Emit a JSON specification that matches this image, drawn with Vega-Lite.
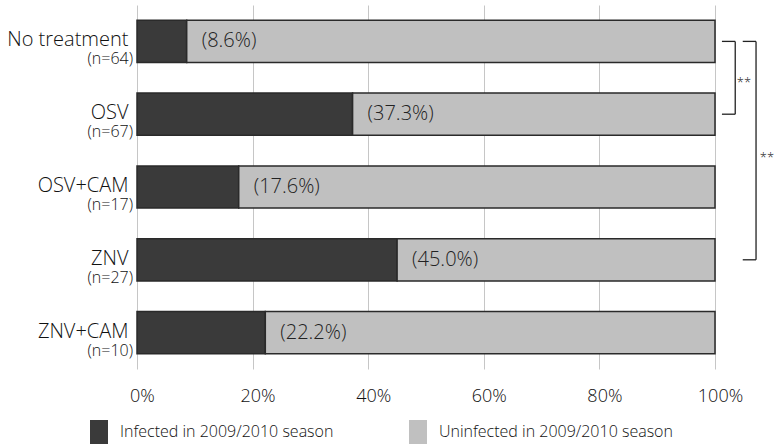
{
  "$schema": "https://vega.github.io/schema/vega-lite/v6.json",
  "width": 578,
  "height": 364,
  "autosize": "none",
  "padding": {"left": 137, "top": 5, "right": 64, "bottom": 79},
  "background": "white",
  "config": {
    "font": "Open Sans",
    "view": {"stroke": null},
    "text": {"fontWeight": 300},
    "axis": {"labelFontWeight": 300},
    "legend": {"labelFontWeight": 300}
  },
  "datasets": {
    "bars": [
      {"treatment": "No treatment", "status": "Infected in 2009/2010 season", "pct": 0.086},
      {"treatment": "No treatment", "status": "Uninfected in 2009/2010 season", "pct": 0.914},
      {"treatment": "OSV", "status": "Infected in 2009/2010 season", "pct": 0.373},
      {"treatment": "OSV", "status": "Uninfected in 2009/2010 season", "pct": 0.627},
      {"treatment": "OSV+CAM", "status": "Infected in 2009/2010 season", "pct": 0.176},
      {"treatment": "OSV+CAM", "status": "Uninfected in 2009/2010 season", "pct": 0.824},
      {"treatment": "ZNV", "status": "Infected in 2009/2010 season", "pct": 0.45},
      {"treatment": "ZNV", "status": "Uninfected in 2009/2010 season", "pct": 0.55},
      {"treatment": "ZNV+CAM", "status": "Infected in 2009/2010 season", "pct": 0.222},
      {"treatment": "ZNV+CAM", "status": "Uninfected in 2009/2010 season", "pct": 0.778}
    ],
    "groups": [
      {"treatment": "No treatment", "n": "(n=64)", "infected": 0.086, "label": "(8.6%)"},
      {"treatment": "OSV", "n": "(n=67)", "infected": 0.373, "label": "(37.3%)"},
      {"treatment": "OSV+CAM", "n": "(n=17)", "infected": 0.176, "label": "(17.6%)"},
      {"treatment": "ZNV", "n": "(n=27)", "infected": 0.45, "label": "(45.0%)"},
      {"treatment": "ZNV+CAM", "n": "(n=10)", "infected": 0.222, "label": "(22.2%)"}
    ],
    "brackets": [
      {"x1": 1.012, "x2": 1.035, "y1": "No treatment", "y2": "No treatment"},
      {"x1": 1.035, "x2": 1.035, "y1": "No treatment", "y2": "OSV"},
      {"x1": 1.012, "x2": 1.035, "y1": "OSV", "y2": "OSV"},
      {"x1": 1.048, "x2": 1.071, "y1": "No treatment", "y2": "No treatment"},
      {"x1": 1.071, "x2": 1.071, "y1": "No treatment", "y2": "ZNV"},
      {"x1": 1.048, "x2": 1.071, "y1": "ZNV", "y2": "ZNV"}
    ]
  },
  "layer": [
    {
      "data": {"name": "bars"},
      "mark": {"type": "bar", "stroke": "#2a2a2a", "strokeWidth": 1.5},
      "encoding": {
        "y": {
          "field": "treatment", "type": "nominal",
          "sort": ["No treatment", "OSV", "OSV+CAM", "ZNV", "ZNV+CAM"],
          "scale": {"paddingInner": 0.42, "paddingOuter": 0.21},
          "axis": {
            "title": null, "ticks": false, "domain": false,
            "labelFontSize": 20, "labelPadding": 9, "labelColor": "#111",
            "labelBaseline": "middle", "labelOffset": -1
          }
        },
        "x": {
          "field": "pct", "type": "quantitative", "stack": "zero",
          "scale": {"domain": [0, 1], "nice": false},
          "axis": {
            "title": null, "format": "%", "values": [0, 0.2, 0.4, 0.6, 0.8, 1],
            "ticks": false, "domain": false, "grid": true, "gridColor": "#c6c6c6",
            "labelFontSize": 18, "labelPadding": 18, "labelOffset": 5,
            "labelColor": "#111", "labelFlush": false
          }
        },
        "color": {
          "field": "status", "type": "nominal",
          "scale": {
            "domain": ["Infected in 2009/2010 season", "Uninfected in 2009/2010 season"],
            "range": ["#3a3a3a", "#c0c0c0"]
          },
          "legend": {
            "title": null, "orient": "none", "direction": "horizontal",
            "legendX": -50, "legendY": 415,
            "symbolType": "M-0.75,-1H0.75V1H-0.75Z", "symbolSize": 576,
            "symbolStrokeWidth": 0, "symbolOpacity": 1,
            "labelFontSize": 16, "labelColor": "#111", "labelOffset": 9,
            "columnPadding": 72, "labelLimit": 400
          }
        }
      }
    },
    {
      "data": {"name": "groups"},
      "mark": {"type": "text", "align": "left", "baseline": "middle", "dx": 15, "fontSize": 20, "color": "#222"},
      "encoding": {
        "y": {"field": "treatment", "type": "nominal", "sort": ["No treatment", "OSV", "OSV+CAM", "ZNV", "ZNV+CAM"]},
        "x": {"field": "infected", "type": "quantitative"},
        "text": {"field": "label"}
      }
    },
    {
      "data": {"name": "groups"},
      "mark": {"type": "text", "align": "right", "baseline": "middle", "dx": -4, "dy": 18, "fontSize": 16, "color": "#111"},
      "encoding": {
        "y": {"field": "treatment", "type": "nominal", "sort": ["No treatment", "OSV", "OSV+CAM", "ZNV", "ZNV+CAM"]},
        "x": {"datum": 0, "type": "quantitative"},
        "text": {"field": "n"}
      }
    },
    {
      "data": {"name": "brackets"},
      "mark": {"type": "rule", "color": "#222", "strokeWidth": 1.3, "clip": false},
      "encoding": {
        "x": {"field": "x1", "type": "quantitative"},
        "x2": {"field": "x2"},
        "y": {"field": "y1", "type": "nominal", "sort": ["No treatment", "OSV", "OSV+CAM", "ZNV", "ZNV+CAM"]},
        "y2": {"field": "y2"}
      }
    },
    {
      "data": {"values": [{"treatment": "No treatment", "x": 1.05, "t": "**"}]},
      "mark": {"type": "text", "align": "center", "baseline": "middle", "dy": 42, "fontSize": 13, "color": "#222"},
      "encoding": {
        "y": {"field": "treatment", "type": "nominal", "sort": ["No treatment", "OSV", "OSV+CAM", "ZNV", "ZNV+CAM"]},
        "x": {"field": "x", "type": "quantitative"},
        "text": {"field": "t"}
      }
    },
    {
      "data": {"values": [{"treatment": "OSV+CAM", "x": 1.09, "t": "**"}]},
      "mark": {"type": "text", "align": "center", "baseline": "middle", "dy": -29, "fontSize": 13, "color": "#222"},
      "encoding": {
        "y": {"field": "treatment", "type": "nominal", "sort": ["No treatment", "OSV", "OSV+CAM", "ZNV", "ZNV+CAM"]},
        "x": {"field": "x", "type": "quantitative"},
        "text": {"field": "t"}
      }
    }
  ]
}
